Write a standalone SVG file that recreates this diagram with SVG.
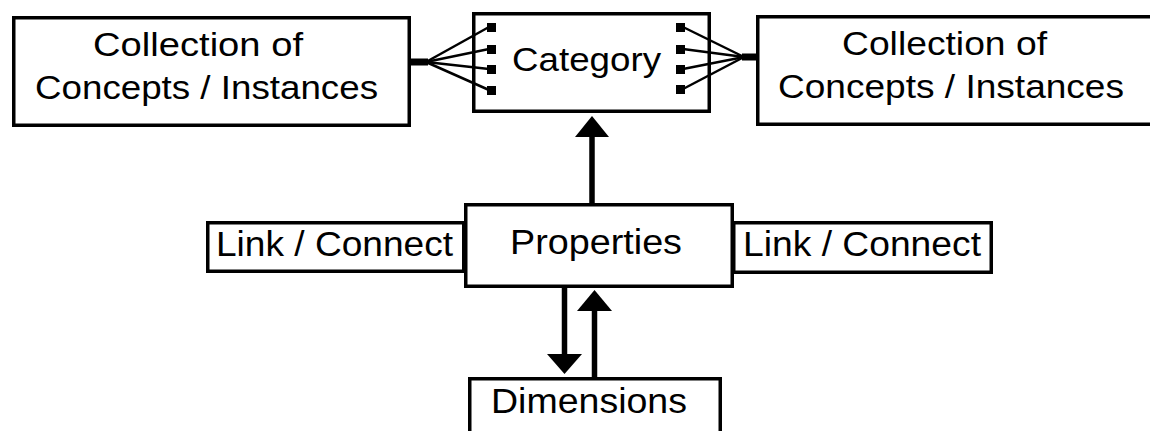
<svg xmlns="http://www.w3.org/2000/svg" width="1150" height="431" viewBox="0 0 1150 431">
<style>
.box{fill:#fff;stroke:#000;stroke-width:3.5}
.t{font-family:"Liberation Sans",Arial,sans-serif;fill:#000}
.fan{stroke:#000;stroke-width:2.5;fill:none}
.shaft{stroke:#000;stroke-width:5.5;fill:none}
</style>
<rect width="1150" height="431" fill="#fff"/>
<g id="collection-left">
<rect class="box" x="13.75" y="17.75" width="395.5" height="107.5"/>
<text class="t" x="93" y="56" font-size="33" textLength="210" lengthAdjust="spacingAndGlyphs">Collection of</text>
<text class="t" x="35" y="99" font-size="33" textLength="343" lengthAdjust="spacingAndGlyphs">Concepts / Instances</text>
</g>
<g id="category">
<rect class="box" x="473.75" y="13.75" width="235.5" height="97.5"/>
<text class="t" x="512" y="71" font-size="34" textLength="149" lengthAdjust="spacingAndGlyphs">Category</text>
<rect x="487" y="23" width="9" height="9" fill="#000"/>
<rect x="487" y="45" width="9" height="9" fill="#000"/>
<rect x="487" y="65" width="9" height="9" fill="#000"/>
<rect x="487" y="86" width="9" height="9" fill="#000"/>
<rect x="676" y="23" width="9" height="9" fill="#000"/>
<rect x="676" y="45" width="9" height="9" fill="#000"/>
<rect x="676" y="65" width="9" height="9" fill="#000"/>
<rect x="676" y="85" width="9" height="9" fill="#000"/>
</g>
<g id="collection-right">
<rect class="box" x="757.75" y="16.75" width="400" height="107.5"/>
<text class="t" x="842" y="55" font-size="33" textLength="205" lengthAdjust="spacingAndGlyphs">Collection of</text>
<text class="t" x="778" y="98" font-size="33" textLength="346" lengthAdjust="spacingAndGlyphs">Concepts / Instances</text>
</g>
<g id="link-left">
<rect class="box" x="207.75" y="222.75" width="256" height="48.5"/>
<text class="t" x="216" y="256" font-size="35" textLength="237" lengthAdjust="spacingAndGlyphs">Link / Connect</text>
</g>
<g id="link-right">
<rect class="box" x="733.75" y="222.75" width="257.5" height="49.5"/>
<text class="t" x="743" y="256" font-size="35" textLength="238" lengthAdjust="spacingAndGlyphs">Link / Connect</text>
</g>
<g id="properties">
<rect class="box" x="465.75" y="204.75" width="266.5" height="81.5"/>
<text class="t" x="510" y="254" font-size="35" textLength="172" lengthAdjust="spacingAndGlyphs">Properties</text>
</g>
<g id="dimensions">
<rect class="box" x="469.75" y="378.75" width="250.5" height="70"/>
<text class="t" x="491" y="413" font-size="35" textLength="196" lengthAdjust="spacingAndGlyphs">Dimensions</text>
</g>
<g id="connectors">
<line class="shaft" x1="592" y1="203" x2="592" y2="134"/>
<polygon points="592,116 575,137 609,137" fill="#000"/>
<line class="shaft" x1="564.5" y1="288" x2="564.5" y2="356"/>
<polygon points="564.5,374 547,354 582,354" fill="#000"/>
<line class="shaft" x1="594.5" y1="377" x2="594.5" y2="308"/>
<polygon points="594.5,290 577,311 612,311" fill="#000"/>
<g id="fan-left">
<rect x="411" y="58.5" width="17" height="7" fill="#000"/>
<line class="fan" x1="426" y1="62" x2="489" y2="27"/>
<line class="fan" x1="426" y1="62" x2="489" y2="49"/>
<line class="fan" x1="426" y1="62" x2="489" y2="69"/>
<line class="fan" x1="426" y1="62" x2="489" y2="90"/>
</g>
<g id="fan-right">
<rect x="742" y="53.5" width="15" height="7" fill="#000"/>
<line class="fan" x1="744" y1="57" x2="683" y2="27"/>
<line class="fan" x1="744" y1="57" x2="683" y2="49"/>
<line class="fan" x1="744" y1="57" x2="683" y2="69"/>
<line class="fan" x1="744" y1="57" x2="683" y2="89"/>
</g>
</g>
</svg>
